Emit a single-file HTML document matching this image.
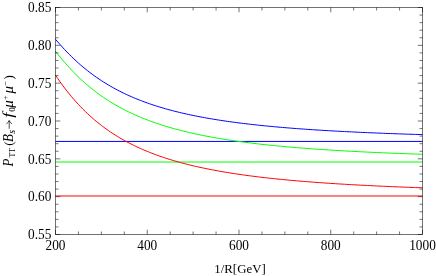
<!DOCTYPE html><html><head><meta charset="utf-8"><style>html,body{margin:0;padding:0;background:#fff;width:436px;height:276px;overflow:hidden}</style></head><body><svg width="436" height="276" viewBox="0 0 436 276" style="position:absolute;left:0;top:0">
<rect width="436" height="276" fill="#fff"/>
<path d="M55.5,141.43 H422.5" stroke="#0000ff" stroke-width="1" fill="none"/>
<path d="M55.5,162.01 H422.5" stroke="#00ff00" stroke-width="1" fill="none"/>
<path d="M55.5,195.99 H422.5" stroke="#ff0000" stroke-width="1" fill="none"/>
<path d="M55.50,39.28 L57.79,41.97 L60.09,44.59 L62.38,47.14 L64.67,49.62 L66.97,52.03 L69.26,54.37 L71.56,56.64 L73.85,58.84 L76.14,60.98 L78.44,63.05 L80.73,65.07 L83.03,67.02 L85.32,68.91 L87.61,70.74 L89.91,72.52 L92.20,74.24 L94.49,75.91 L96.79,77.53 L99.08,79.09 L101.38,80.61 L103.67,82.08 L105.96,83.51 L108.26,84.90 L110.55,86.24 L112.84,87.54 L115.14,88.80 L117.43,90.02 L119.72,91.20 L122.02,92.35 L124.31,93.47 L126.61,94.55 L128.90,95.60 L131.19,96.62 L133.49,97.60 L135.78,98.56 L138.07,99.49 L140.37,100.40 L142.66,101.27 L144.96,102.12 L147.25,102.95 L149.54,103.76 L151.84,104.54 L154.13,105.30 L156.43,106.03 L158.72,106.75 L161.01,107.45 L163.31,108.13 L165.60,108.79 L167.89,109.43 L170.19,110.05 L172.48,110.66 L174.78,111.25 L177.07,111.82 L179.36,112.38 L181.66,112.93 L183.95,113.46 L186.24,113.98 L188.54,114.48 L190.83,114.97 L193.12,115.45 L195.42,115.92 L197.71,116.37 L200.01,116.82 L202.30,117.25 L204.59,117.67 L206.89,118.08 L209.18,118.48 L211.47,118.87 L213.77,119.26 L216.06,119.63 L218.36,119.99 L220.65,120.35 L222.94,120.70 L225.24,121.03 L227.53,121.37 L229.82,121.69 L232.12,122.01 L234.41,122.31 L236.71,122.62 L239.00,122.91 L241.29,123.20 L243.59,123.48 L245.88,123.76 L248.18,124.03 L250.47,124.29 L252.76,124.55 L255.06,124.80 L257.35,125.05 L259.64,125.29 L261.94,125.53 L264.23,125.76 L266.52,125.99 L268.82,126.21 L271.11,126.43 L273.41,126.64 L275.70,126.85 L277.99,127.06 L280.29,127.26 L282.58,127.46 L284.88,127.65 L287.17,127.84 L289.46,128.02 L291.76,128.20 L294.05,128.38 L296.34,128.56 L298.64,128.73 L300.93,128.90 L303.23,129.06 L305.52,129.22 L307.81,129.38 L310.11,129.54 L312.40,129.69 L314.69,129.84 L316.99,129.99 L319.28,130.13 L321.57,130.27 L323.87,130.41 L326.16,130.55 L328.46,130.68 L330.75,130.81 L333.04,130.94 L335.34,131.07 L337.63,131.20 L339.93,131.32 L342.22,131.44 L344.51,131.56 L346.81,131.67 L349.10,131.79 L351.39,131.90 L353.69,132.01 L355.98,132.12 L358.27,132.23 L360.57,132.33 L362.86,132.44 L365.16,132.54 L367.45,132.64 L369.74,132.74 L372.04,132.83 L374.33,132.93 L376.62,133.02 L378.92,133.12 L381.21,133.21 L383.51,133.30 L385.80,133.38 L388.09,133.47 L390.39,133.56 L392.68,133.64 L394.98,133.72 L397.27,133.80 L399.56,133.88 L401.86,133.96 L404.15,134.04 L406.44,134.12 L408.74,134.19 L411.03,134.27 L413.32,134.34 L415.62,134.41 L417.91,134.48 L420.21,134.55 L422.50,134.62" stroke="#0000ff" stroke-width="1" fill="none"/>
<path d="M55.50,51.24 L57.79,54.17 L60.09,57.02 L62.38,59.79 L64.67,62.48 L66.97,65.09 L69.26,67.62 L71.56,70.08 L73.85,72.46 L76.14,74.77 L78.44,77.01 L80.73,79.18 L83.03,81.28 L85.32,83.32 L87.61,85.29 L89.91,87.21 L92.20,89.06 L94.49,90.85 L96.79,92.59 L99.08,94.28 L101.38,95.91 L103.67,97.50 L105.96,99.03 L108.26,100.52 L110.55,101.96 L112.84,103.36 L115.14,104.71 L117.43,106.02 L119.72,107.30 L122.02,108.53 L124.31,109.73 L126.61,110.89 L128.90,112.02 L131.19,113.11 L133.49,114.17 L135.78,115.20 L138.07,116.20 L140.37,117.17 L142.66,118.11 L144.96,119.03 L147.25,119.92 L149.54,120.78 L151.84,121.62 L154.13,122.44 L156.43,123.23 L158.72,124.01 L161.01,124.76 L163.31,125.49 L165.60,126.20 L167.89,126.89 L170.19,127.56 L172.48,128.21 L174.78,128.85 L177.07,129.47 L179.36,130.08 L181.66,130.66 L183.95,131.24 L186.24,131.80 L188.54,132.34 L190.83,132.87 L193.12,133.39 L195.42,133.89 L197.71,134.38 L200.01,134.86 L202.30,135.33 L204.59,135.79 L206.89,136.23 L209.18,136.66 L211.47,137.09 L213.77,137.50 L216.06,137.91 L218.36,138.30 L220.65,138.69 L222.94,139.06 L225.24,139.43 L227.53,139.79 L229.82,140.14 L232.12,140.48 L234.41,140.82 L236.71,141.15 L239.00,141.47 L241.29,141.78 L243.59,142.09 L245.88,142.39 L248.18,142.68 L250.47,142.97 L252.76,143.25 L255.06,143.53 L257.35,143.80 L259.64,144.06 L261.94,144.32 L264.23,144.57 L266.52,144.82 L268.82,145.06 L271.11,145.30 L273.41,145.53 L275.70,145.76 L277.99,145.98 L280.29,146.20 L282.58,146.42 L284.88,146.63 L287.17,146.83 L289.46,147.04 L291.76,147.23 L294.05,147.43 L296.34,147.62 L298.64,147.81 L300.93,147.99 L303.23,148.17 L305.52,148.35 L307.81,148.52 L310.11,148.69 L312.40,148.86 L314.69,149.02 L316.99,149.19 L319.28,149.34 L321.57,149.50 L323.87,149.65 L326.16,149.80 L328.46,149.95 L330.75,150.09 L333.04,150.24 L335.34,150.38 L337.63,150.51 L339.93,150.65 L342.22,150.78 L344.51,150.91 L346.81,151.04 L349.10,151.17 L351.39,151.29 L353.69,151.41 L355.98,151.53 L358.27,151.65 L360.57,151.77 L362.86,151.88 L365.16,151.99 L367.45,152.10 L369.74,152.21 L372.04,152.32 L374.33,152.42 L376.62,152.53 L378.92,152.63 L381.21,152.73 L383.51,152.83 L385.80,152.92 L388.09,153.02 L390.39,153.11 L392.68,153.21 L394.98,153.30 L397.27,153.39 L399.56,153.48 L401.86,153.56 L404.15,153.65 L406.44,153.73 L408.74,153.82 L411.03,153.90 L413.32,153.98 L415.62,154.06 L417.91,154.14 L420.21,154.22 L422.50,154.29" stroke="#00ff00" stroke-width="1" fill="none"/>
<path d="M55.50,75.22 L57.79,78.59 L60.09,81.86 L62.38,85.02 L64.67,88.08 L66.97,91.05 L69.26,93.91 L71.56,96.68 L73.85,99.37 L76.14,101.96 L78.44,104.46 L80.73,106.89 L83.03,109.23 L85.32,111.50 L87.61,113.69 L89.91,115.81 L92.20,117.86 L94.49,119.84 L96.79,121.75 L99.08,123.61 L101.38,125.40 L103.67,127.13 L105.96,128.81 L108.26,130.43 L110.55,132.00 L112.84,133.53 L115.14,135.00 L117.43,136.42 L119.72,137.80 L122.02,139.14 L124.31,140.44 L126.61,141.69 L128.90,142.91 L131.19,144.09 L133.49,145.23 L135.78,146.34 L138.07,147.42 L140.37,148.46 L142.66,149.48 L144.96,150.46 L147.25,151.41 L149.54,152.34 L151.84,153.24 L154.13,154.11 L156.43,154.96 L158.72,155.78 L161.01,156.59 L163.31,157.36 L165.60,158.12 L167.89,158.86 L170.19,159.57 L172.48,160.27 L174.78,160.95 L177.07,161.61 L179.36,162.25 L181.66,162.88 L183.95,163.49 L186.24,164.08 L188.54,164.66 L190.83,165.22 L193.12,165.77 L195.42,166.30 L197.71,166.82 L200.01,167.33 L202.30,167.82 L204.59,168.31 L206.89,168.78 L209.18,169.24 L211.47,169.69 L213.77,170.12 L216.06,170.55 L218.36,170.97 L220.65,171.38 L222.94,171.77 L225.24,172.16 L227.53,172.54 L229.82,172.91 L232.12,173.28 L234.41,173.63 L236.71,173.98 L239.00,174.31 L241.29,174.64 L243.59,174.97 L245.88,175.28 L248.18,175.59 L250.47,175.90 L252.76,176.19 L255.06,176.48 L257.35,176.77 L259.64,177.05 L261.94,177.32 L264.23,177.58 L266.52,177.84 L268.82,178.10 L271.11,178.35 L273.41,178.60 L275.70,178.84 L277.99,179.07 L280.29,179.30 L282.58,179.53 L284.88,179.75 L287.17,179.97 L289.46,180.18 L291.76,180.39 L294.05,180.59 L296.34,180.80 L298.64,180.99 L300.93,181.19 L303.23,181.38 L305.52,181.56 L307.81,181.74 L310.11,181.92 L312.40,182.10 L314.69,182.27 L316.99,182.44 L319.28,182.61 L321.57,182.77 L323.87,182.93 L326.16,183.09 L328.46,183.25 L330.75,183.40 L333.04,183.55 L335.34,183.69 L337.63,183.84 L339.93,183.98 L342.22,184.12 L344.51,184.26 L346.81,184.39 L349.10,184.53 L351.39,184.66 L353.69,184.78 L355.98,184.91 L358.27,185.03 L360.57,185.16 L362.86,185.28 L365.16,185.39 L367.45,185.51 L369.74,185.62 L372.04,185.74 L374.33,185.85 L376.62,185.96 L378.92,186.06 L381.21,186.17 L383.51,186.27 L385.80,186.37 L388.09,186.47 L390.39,186.57 L392.68,186.67 L394.98,186.77 L397.27,186.86 L399.56,186.96 L401.86,187.05 L404.15,187.14 L406.44,187.23 L408.74,187.31 L411.03,187.40 L413.32,187.49 L415.62,187.57 L417.91,187.65 L420.21,187.73 L422.50,187.81" stroke="#ff0000" stroke-width="1" fill="none"/>
<g stroke="#000" stroke-width="0.55" fill="none">
<rect x="55.5" y="7.5" width="367.0" height="227.0"/>
<path d="M55.50,234.5 v-4.8 M55.50,7.5 v4.8 M78.44,234.5 v-3 M78.44,7.5 v3 M101.38,234.5 v-3 M101.38,7.5 v3 M124.31,234.5 v-3 M124.31,7.5 v3 M147.25,234.5 v-4.8 M147.25,7.5 v4.8 M170.19,234.5 v-3 M170.19,7.5 v3 M193.12,234.5 v-3 M193.12,7.5 v3 M216.06,234.5 v-3 M216.06,7.5 v3 M239.00,234.5 v-4.8 M239.00,7.5 v4.8 M261.94,234.5 v-3 M261.94,7.5 v3 M284.88,234.5 v-3 M284.88,7.5 v3 M307.81,234.5 v-3 M307.81,7.5 v3 M330.75,234.5 v-4.8 M330.75,7.5 v4.8 M353.69,234.5 v-3 M353.69,7.5 v3 M376.62,234.5 v-3 M376.62,7.5 v3 M399.56,234.5 v-3 M399.56,7.5 v3 M422.50,234.5 v-4.8 M422.50,7.5 v4.8 M55.5,234.50 h4.8 M422.5,234.50 h-4.8 M55.5,226.93 h3 M422.5,226.93 h-3 M55.5,219.37 h3 M422.5,219.37 h-3 M55.5,211.80 h3 M422.5,211.80 h-3 M55.5,204.23 h3 M422.5,204.23 h-3 M55.5,196.67 h4.8 M422.5,196.67 h-4.8 M55.5,189.10 h3 M422.5,189.10 h-3 M55.5,181.53 h3 M422.5,181.53 h-3 M55.5,173.97 h3 M422.5,173.97 h-3 M55.5,166.40 h3 M422.5,166.40 h-3 M55.5,158.83 h4.8 M422.5,158.83 h-4.8 M55.5,151.27 h3 M422.5,151.27 h-3 M55.5,143.70 h3 M422.5,143.70 h-3 M55.5,136.13 h3 M422.5,136.13 h-3 M55.5,128.57 h3 M422.5,128.57 h-3 M55.5,121.00 h4.8 M422.5,121.00 h-4.8 M55.5,113.43 h3 M422.5,113.43 h-3 M55.5,105.87 h3 M422.5,105.87 h-3 M55.5,98.30 h3 M422.5,98.30 h-3 M55.5,90.73 h3 M422.5,90.73 h-3 M55.5,83.17 h4.8 M422.5,83.17 h-4.8 M55.5,75.60 h3 M422.5,75.60 h-3 M55.5,68.03 h3 M422.5,68.03 h-3 M55.5,60.47 h3 M422.5,60.47 h-3 M55.5,52.90 h3 M422.5,52.90 h-3 M55.5,45.33 h4.8 M422.5,45.33 h-4.8 M55.5,37.77 h3 M422.5,37.77 h-3 M55.5,30.20 h3 M422.5,30.20 h-3 M55.5,22.63 h3 M422.5,22.63 h-3 M55.5,15.07 h3 M422.5,15.07 h-3 M55.5,7.50 h4.8 M422.5,7.50 h-4.8"/>
</g>
<g font-family="Liberation Serif, serif" font-size="13px" fill="#000" style="filter:grayscale(1)">
<text transform="translate(51.3,239.20) scale(0.945,1)" font-size="14.1px" text-anchor="end">0.55</text>
<text transform="translate(51.3,201.37) scale(0.945,1)" font-size="14.1px" text-anchor="end">0.60</text>
<text transform="translate(51.3,163.53) scale(0.945,1)" font-size="14.1px" text-anchor="end">0.65</text>
<text transform="translate(51.3,125.70) scale(0.945,1)" font-size="14.1px" text-anchor="end">0.70</text>
<text transform="translate(51.3,87.87) scale(0.945,1)" font-size="14.1px" text-anchor="end">0.75</text>
<text transform="translate(51.3,50.03) scale(0.945,1)" font-size="14.1px" text-anchor="end">0.80</text>
<text transform="translate(51.3,12.20) scale(0.945,1)" font-size="14.1px" text-anchor="end">0.85</text>
<text transform="translate(55.50,249.8) scale(0.945,1)" font-size="14.1px" text-anchor="middle">200</text>
<text transform="translate(147.25,249.8) scale(0.945,1)" font-size="14.1px" text-anchor="middle">400</text>
<text transform="translate(239.00,249.8) scale(0.945,1)" font-size="14.1px" text-anchor="middle">600</text>
<text transform="translate(330.75,249.8) scale(0.945,1)" font-size="14.1px" text-anchor="middle">800</text>
<text transform="translate(422.50,249.8) scale(0.945,1)" font-size="14.1px" text-anchor="middle">1000</text>
<text transform="translate(240,272.6) scale(0.975,1)" font-size="13.2px" text-anchor="middle">1/R[GeV]</text>
<g transform="translate(12.7,166.1) rotate(-90)">
<g transform="scale(1,1.13)" font-style="italic">
<text x="-0.3" y="0">P</text>
<text x="24.2" y="0">B</text>
</g>
<text x="8.7" y="2.4" font-size="8.5px" textLength="9.2" lengthAdjust="spacingAndGlyphs">TT</text>
<text x="20.4" y="0">(</text>
<text x="32.3" y="2.4" font-size="10px" font-style="italic">s</text>
<path d="M37.3,-3.5 H45.2 M42.3,-6.3 Q43.4,-4.2 45.7,-3.5 Q43.4,-2.8 42.3,-0.7" stroke="#000" stroke-width="0.7" fill="none"/>
<text x="54.3" y="2" font-size="9px">0</text>
<text transform="translate(48.3,0) scale(1.4,1.13)" font-style="italic">f</text>
<text transform="translate(58.3,0) scale(1.15,1.05)" font-style="italic">μ</text>
<text x="66.2" y="-4.8" font-size="8.5px">+</text>
<text transform="translate(72.6,0) scale(1.15,1.05)" font-style="italic">μ</text>
<text x="80.3" y="-4.8" font-size="8.5px">−</text>
<text x="86.6" y="0">)</text>
</g>
</g>
</svg></body></html>
